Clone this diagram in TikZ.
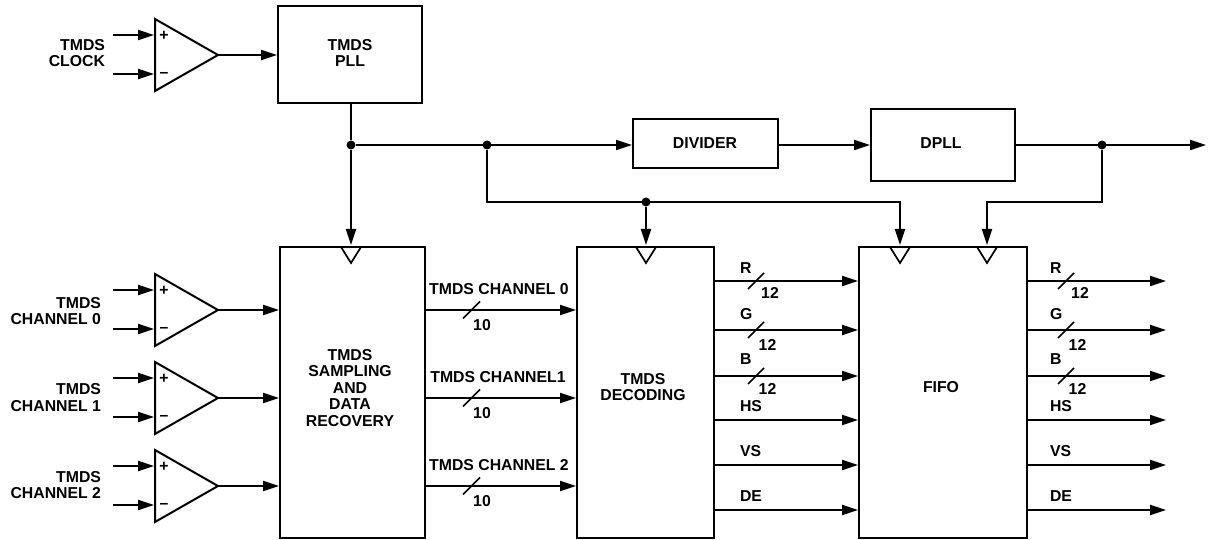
\documentclass[tikz,border=0pt]{standalone}
\usepackage{fontspec}
\setmainfont{Liberation Sans}
\usetikzlibrary{arrows.meta,calc}
\tikzset{
  wire/.style={line width=2pt,line join=miter},
  flow/.style={wire,-{Triangle[length=16pt,width=10pt]},shorten >=1pt},
  lab/.style={inner sep=0pt,outer sep=0pt,font=\bfseries\fontsize{15.8}{16.5}\selectfont,align=center},
  rlab/.style={lab,align=right,anchor=east},
  llab/.style={lab,anchor=west},
  blk/.style={draw,line width=2pt,outer sep=0pt,inner sep=0pt},
  dot/.style={circle,fill=black,inner sep=0pt,minimum size=9pt},
  slash/.style={line width=1.5pt}
}
\newcommand{\amp}[2]{%
  \coordinate (#1tip) at (218,#2);
  \coordinate (#1p) at (155,#2-20);
  \coordinate (#1m) at (155,#2+19);
  \coordinate (#1ps) at (113,#2-20);
  \coordinate (#1ms) at (113,#2+19);
  \draw[wire] (155,#2-36) -- (218,#2) -- (155,#2+36) -- cycle;
  \node[lab] (#1plus) at (164,#2-19) {+};
  \node[lab] (#1minus) at (164,#2+19.5) {--};
  \draw[flow] (#1ps) -- (#1p);
  \draw[flow] (#1ms) -- (#1m);
}
\newcommand{\clk}[1]{\draw[line width=1.7pt] (#1,247) -- ++(-10,0) -- ++(10,16) -- ++(10,-16);}
\begin{document}
\begin{tikzpicture}[x=1pt,y=-1pt]
\useasboundingbox (0,0) rectangle (1213,540);
% blocks
\node[blk,minimum width=144pt,minimum height=97pt] (pll) at (350,54.5) {};
\node[blk,minimum width=145pt,minimum height=49pt] (div) at (705.5,143.5) {};
\node[blk,minimum width=144pt,minimum height=72pt] (dpll) at (943,145) {};
\node[blk,minimum width=145pt,minimum height=291pt] (samp) at (352.5,392.5) {};
\node[blk,minimum width=137pt,minimum height=291pt] (dec) at (645.5,392.5) {};
\node[blk,minimum width=168pt,minimum height=291pt] (fifo) at (943,392.5) {};
\node[lab] (tpll) at (pll.center |- 0,53) {TMDS\\PLL};
\node[lab] (tdiv) at (705,143) {DIVIDER};
\node[lab] (tdpll) at (941,143) {DPLL};
\node[lab] (tsamp) at (350,388) {TMDS\\SAMPLING\\AND\\DATA\\RECOVERY};
\node[lab] (tdec) at (643,387) {TMDS\\DECODING};
\node[lab] (tfifo) at (941,387) {FIFO};
\clk{351}\clk{646}\clk{900}\clk{987}
% amplifiers
\amp{a}{55}\amp{b}{310}\amp{c}{398}\amp{d}{486}
\node[rlab] (tclk) at (105,53) {TMDS\\CLOCK};
\node[rlab] (tc0) at (101,311) {TMDS\\CHANNEL 0};
\node[rlab] (tc1) at (101,397.5) {TMDS\\CHANNEL 1};
\node[rlab] (tc2) at (101,485) {TMDS\\CHANNEL 2};
\draw[flow] (atip) -- (pll.west |- atip);
\draw[flow] (btip) -- (samp.west |- btip);
\draw[flow] (ctip) -- (samp.west |- ctip);
\draw[flow] (dtip) -- (samp.west |- dtip);
% clock tree
\node[dot] (j1) at (351,145) {};
\node[dot] (j2) at (487,145) {};
\node[dot] (j3) at (646,202) {};
\node[dot] (j4) at (1102,145) {};
\coordinate (out) at (1207,145);
\coordinate (c1) at (351,246);
\coordinate (c2) at (646,246);
\coordinate (c3) at (900,246);
\coordinate (c4) at (987,246);
\draw[wire] (pll.south -| j1) -- (j1);
\draw[flow] (j1) -- (c1);
\draw[flow] (j1) -- (div.west |- j1);
\draw[flow] (div.east |- j1) -- (dpll.west |- j1);
\draw[flow] (dpll.east |- j1) -- (out);
\draw[flow] (j2) |- (c3 |- j3) -- (c3);
\draw[flow] (j3) -- (c2);
\draw[flow] (j4) |- (c4 |- j3) -- (c4);
% channels
\foreach \y/\t/\tx in {310/TMDS CHANNEL 0/499,398/TMDS CHANNEL1/498,486/TMDS CHANNEL 2/499}{
  \draw[flow] (samp.east |- 0,\y) -- (dec.west |- 0,\y);
  \draw[slash] (463,\y+8.5) -- (480,\y-8.5);
  \node[lab] at (\tx,\y-20.5) {\t};
  \node[lab] at (482,\y+15) {10};
}
% data rows
\foreach \y/\t/\ly in {281/R/268,330/G/314,376/B/359,420/HS/406,465/VS/451,510/DE/496}{
  \draw[flow] (dec.east |- 0,\y) -- (fifo.west |- 0,\y);
  \draw[flow] (fifo.east |- 0,\y) -- (1167,\y);
  \node[llab] at (740,\ly) {\t};
  \node[llab] at (1050,\ly) {\t};
}
\foreach \y/\ly/\ox in {281/293/0,330/344.5/-2.5,376/389/-2.5}{
  \draw[slash] (748,\y+8) -- (764,\y-8);
  \draw[slash] (1058,\y+8) -- (1074,\y-8);
  \node[lab] at (770+\ox,\ly) {12};
  \node[lab] at (1080+\ox,\ly) {12};
}
\end{tikzpicture}
\end{document}
